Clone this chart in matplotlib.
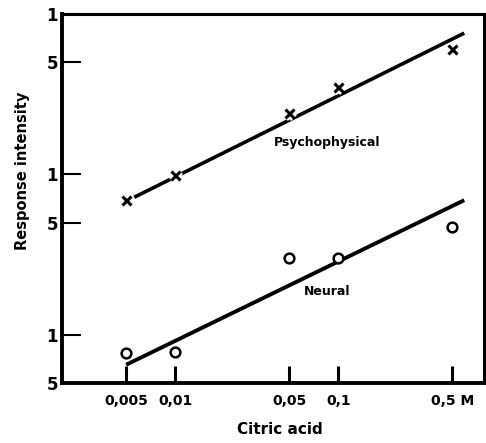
import matplotlib.pyplot as plt
import matplotlib.patheffects as pe
from matplotlib.ticker import NullLocator

plt.rcParams['font.family'] = ['Liberation Sans Narrow', 'DejaVu Sans']
plt.rcParams['font.weight'] = 'bold'

# citric acid concentration (M)
conc = [0.005, 0.01, 0.05, 0.1, 0.5]
# measured responses
psycho = [0.069, 0.099, 0.24, 0.35, 0.60]
neural = [0.0077, 0.0078, 0.030, 0.030, 0.047]
# fitted lines (end points)
fit_x = [0.0056, 0.59]
psycho_fit = [0.072, 0.76]
neural_fit_x = [0.005, 0.59]
neural_fit = [0.0065, 0.069]

xticks = [0.005, 0.01, 0.05, 0.1, 0.5]
xticklabels = ['0,005', '0,01', '0,05', '0,1', '0,5 M']
yticks = [0.005, 0.01, 0.05, 0.1, 0.5, 1]
yticklabels = ['5', '1', '5', '1', '5', '1']

fig = plt.figure(figsize=(4.86, 4.43), dpi=100)
ax = fig.add_axes([62 / 486, 1 - 383 / 443, 422 / 486, 369 / 443])
ax.set_xscale('log')
ax.set_yscale('log')
ax.set_xlim(0.00202, 0.78)
ax.set_ylim(0.005, 1)

ax.plot(fit_x, psycho_fit, color='black', lw=2.6, solid_capstyle='butt')
ax.plot(neural_fit_x, neural_fit, color='black', lw=2.8, solid_capstyle='butt')

# white halo around crosses leaves a gap in the line
ax.plot(conc, psycho, 'x', color='black', ms=6.5, mew=2.2,
        path_effects=[pe.Stroke(linewidth=6, foreground='white'), pe.Normal()])
ax.plot(conc, neural, 'o', mfc='white', mec='black', ms=7, mew=1.8)

ax.text(0.0855, 0.158, 'Psychophysical', fontsize=9, ha='center', va='center')
ax.text(0.0855, 0.0186, 'Neural', fontsize=9, ha='center', va='center')

ax.xaxis.set_minor_locator(NullLocator())
ax.yaxis.set_minor_locator(NullLocator())
ax.set_xticks(xticks)
ax.set_xticklabels(xticklabels, fontsize=10)
ax.set_yticks(yticks)
ax.set_yticklabels(yticklabels, fontsize=12)
ax.tick_params(axis='x', direction='in', length=12, width=2.2, pad=8)
ax.tick_params(axis='y', direction='in', length=14, width=1.5, pad=3)

for side in ['left', 'bottom']:
    ax.spines[side].set_linewidth(2.8)
for side in ['top', 'right']:
    ax.spines[side].set_linewidth(2.2)

fig.text(280 / 486, 1 - 430 / 443, 'Citric acid', fontsize=11, ha='center', va='center')
fig.text(22 / 486, 1 - 171 / 443, 'Response intensity', fontsize=10.5,
         rotation=90, ha='center', va='center')

fig.savefig('out.png', dpi=100)
